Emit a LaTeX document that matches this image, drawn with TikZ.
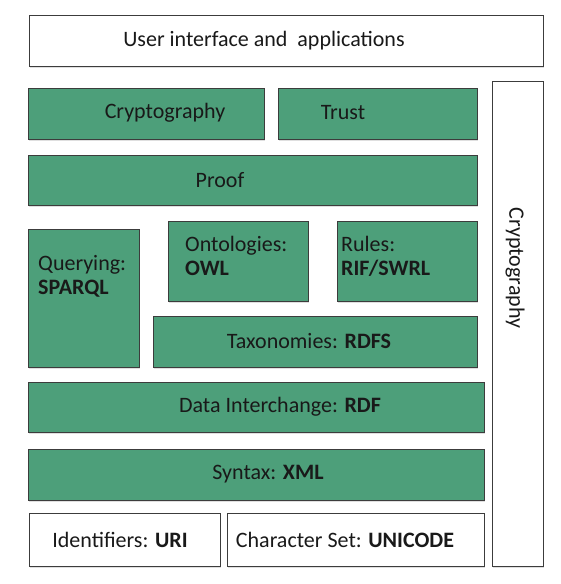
\documentclass[tikz,border=0pt]{standalone}
\usepackage{fontspec}
\setmainfont{Carlito}
\usetikzlibrary{shadows}
\definecolor{layergreen}{RGB}{77,159,122}
\definecolor{edgegray}{RGB}{60,60,60}
\tikzset{
  layerbox/.style={draw=edgegray, line width=0.9pt, rectangle, inner sep=0pt,
    drop shadow={opacity=0.25, shadow xshift=1pt, shadow yshift=-2pt}},
  greenbox/.style={layerbox, fill=layergreen},
  whitebox/.style={layerbox, fill=white},
  lbl/.style={inner sep=0pt, font=\fontsize{22}{24}\selectfont, text=black!90},
  lblleft/.style={lbl, anchor=north west, align=left}
}
\begin{document}
\begin{tikzpicture}[x=1pt, y=-1pt]
\useasboundingbox[fill=white] (0,0) rectangle (560,584);
% top and side
\node[whitebox, minimum width=514pt, minimum height=51pt] (ui) at (286,40.5){};
\node[lbl] (uitxt) at (264,41){User interface and\ \ applications};
\node[whitebox, minimum width=51pt, minimum height=485pt] (side) at (517.5,323.5){};
\node[lbl, rotate=-90] (sidetxt) at (515,268){Cryptography};
% upper layers
\node[greenbox, minimum width=236pt, minimum height=51pt] (crypto) at (146,113.5){};
\node[lbl] (cryptotxt) at (165,113){Cryptography};
\node[greenbox, minimum width=199pt, minimum height=51pt] (trust) at (377.5,113.5){};
\node[lbl] (trusttxt) at (343,113){Trust};
\node[greenbox, minimum width=449pt, minimum height=50pt] (proof) at (252.5,180){};
\node[lbl] (prooftxt) at (220,180){Proof};
% middle
\node[greenbox, minimum width=111pt, minimum height=138pt] (query) at (83.5,298){};
\node[lblleft] (querytxt) at (38,255){Querying:\\\textbf{SPARQL}};
\node[greenbox, minimum width=140pt, minimum height=80pt] (onto) at (238,261){};
\node[lblleft] (ontotxt) at (185,236){Ontologies:\\\textbf{OWL}};
\node[greenbox, minimum width=140pt, minimum height=80pt] (rules) at (407,261){};
\node[lblleft] (rulestxt) at (341,236){Rules:\\\textbf{RIF/SWRL}};
\node[greenbox, minimum width=324pt, minimum height=51pt] (taxo) at (315,341.5){};
\node[lbl] (taxotxt) at (309,341){Taxonomies: \textbf{RDFS}};
% lower layers
\node[greenbox, minimum width=456pt, minimum height=50pt] (rdf) at (256,407){};
\node[lbl] (rdftxt) at (280,407){Data Interchange: \textbf{RDF}};
\node[greenbox, minimum width=456pt, minimum height=51pt] (xml) at (256,474.5){};
\node[lbl] (xmltxt) at (268,474){Syntax: \textbf{XML}};
\node[whitebox, minimum width=191pt, minimum height=53pt] (uri) at (124.5,539.5){};
\node[lbl] (uritxt) at (120,540){Identifiers: \textbf{URI}};
\node[whitebox, minimum width=257pt, minimum height=53pt] (unicode) at (355.5,539.5){};
\node[lbl] (unicodetxt) at (345,540){Character Set: \textbf{UNICODE}};
\end{tikzpicture}
\end{document}
